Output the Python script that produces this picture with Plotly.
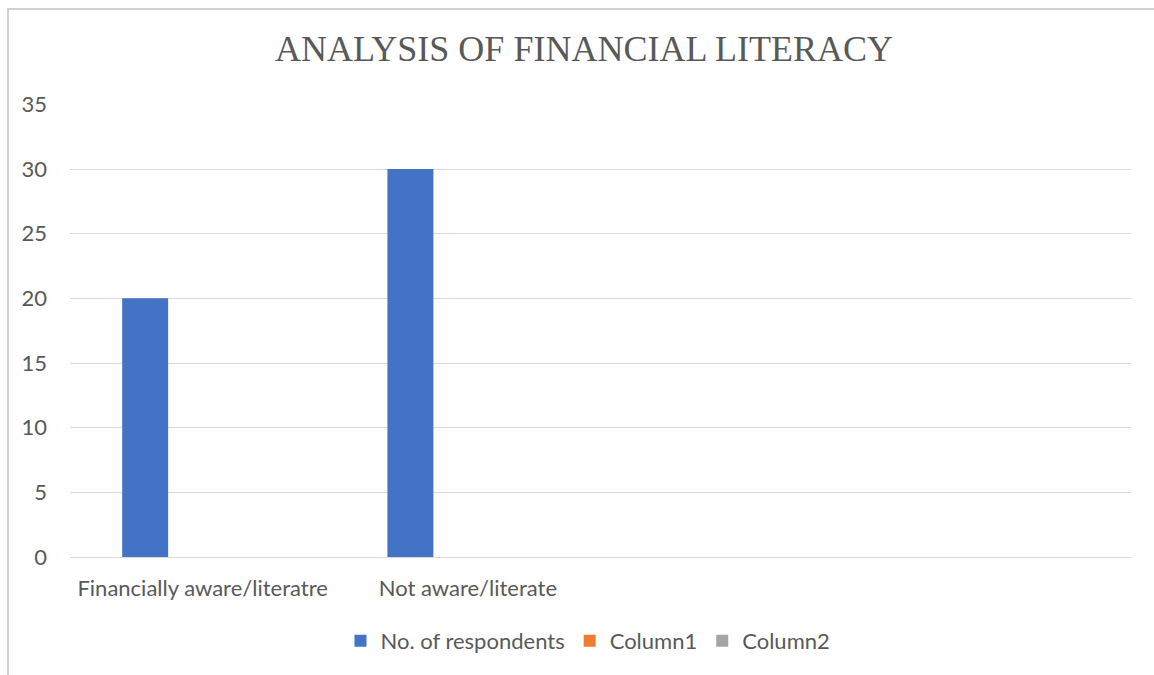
import plotly.graph_objects as go

categories = ["Financially aware/literatre", "Not aware/literate", "", ""]
respondents = [20, 30, None, None]
column1 = [None, None, None, None]
column2 = [None, None, None, None]
series_names = ["No. of respondents", "Column1", "Column2"]
colors = ["#4472C4", "#ED7D31", "#A5A5A5"]
y_ticks = [0, 5, 10, 15, 20, 25, 30, 35]

W, H = 1154, 675
L, R, T, B = 70, 23, 104, 118
pw, ph = W - L - R, H - T - B

xpos = list(range(len(categories)))
font_fam = "Lato, Calibri, sans-serif"
txt_col = "#595959"

fig = go.Figure()
for name, vals, col in zip(series_names, [respondents, column1, column2], colors):
    fig.add_trace(go.Bar(x=xpos, y=vals, name=name, marker=dict(color=col, line=dict(width=0))))

def px_x(px):
    return (px - L) / pw

def px_y(py):
    return (H - B - py) / ph

fig.update_layout(
    width=W, height=H,
    margin=dict(l=L, r=R, t=T, b=B),
    paper_bgcolor="white", plot_bgcolor="white",
    barmode="group", bargap=0.35, bargroupgap=0.2,
    title=dict(text="ANALYSIS OF FINANCIAL LITERACY", x=584 / W, xref="container", xanchor="center",
               y=1 - 48 / H, yref="container", yanchor="middle",
               font=dict(family="Liberation Serif, Times New Roman, serif", size=36, color=txt_col)),
    xaxis=dict(tickmode="array", tickvals=xpos, ticktext=categories, range=[-0.5, len(categories) - 0.5],
               showgrid=False, zeroline=False, showline=False, ticks="",
               ticklabelstandoff=16,
               tickfont=dict(family=font_fam, size=22, color=txt_col)),
    yaxis=dict(range=[0, 35.03], tickvals=y_ticks, showgrid=True, gridcolor="#D9D9D9", gridwidth=1,
               zeroline=True, zerolinecolor="#D9D9D9", zerolinewidth=1, showline=False, ticks="",
               ticklabelstandoff=22,
               tickfont=dict(family=font_fam, size=22, color=txt_col)),
    legend=dict(orientation="h", x=588 / W, xref="container", xanchor="center",
                y=1 - 641 / H, yref="container", yanchor="middle",
                font=dict(family=font_fam, size=22, color=txt_col),
                itemwidth=30, traceorder="normal"),
    showlegend=True,
)

fig.add_shape(type="line", xref="paper", yref="paper", x0=px_x(7), x1=px_x(1154), y0=px_y(9), y1=px_y(9),
              line=dict(color="#D0D0D0", width=2))
fig.add_shape(type="line", xref="paper", yref="paper", x0=px_x(8), x1=px_x(8), y0=px_y(8), y1=px_y(690),
              line=dict(color="#D0D0D0", width=2))

fig.write_html("out.html", config={"displayModeBar": False},
               post_script="document.body.style.margin='0';document.body.style.overflow='hidden';")
